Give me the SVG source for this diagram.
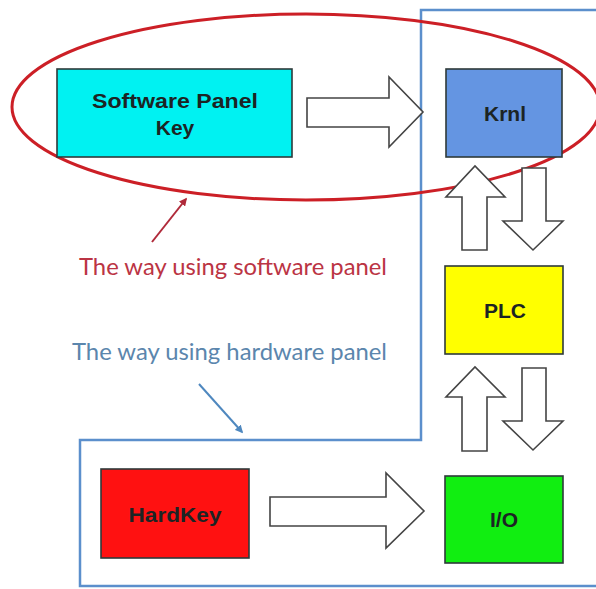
<svg xmlns="http://www.w3.org/2000/svg" width="596" height="589" viewBox="0 0 596 589">
  <style>
    .box { stroke: #2e3a3a; stroke-width: 1.6; }
    .lbl { font-family: "Liberation Sans", Arial, sans-serif; font-weight: bold; font-size: 21px; fill: #1c2424; text-anchor: middle; }
    .flow { fill: #ffffff; stroke: #444444; stroke-width: 1.6; stroke-linejoin: miter; }
    .note { font-family: Lato, "Open Sans", sans-serif; font-size: 23px; }
  </style>
  <defs>
    <marker id="headRed" viewBox="0 0 10 10" refX="8" refY="5" markerWidth="4" markerHeight="4" orient="auto">
      <path d="M0,0 L10,5 L0,10 z" fill="#b02a3a"/>
    </marker>
    <marker id="headBlue" viewBox="0 0 10 10" refX="8" refY="5" markerWidth="4" markerHeight="4" orient="auto">
      <path d="M0,0 L10,5 L0,10 z" fill="#4f88bf"/>
    </marker>
  </defs>

  <rect width="596" height="589" fill="#ffffff"/>

  <!-- hardware path outline -->
  <path id="hardware-outline" d="M596,10 H421 V440 H80 V586 H596" fill="none" stroke="#5b8fcc" stroke-width="2.5"/>

  <!-- software path highlight -->
  <ellipse id="software-ring" cx="306" cy="107" rx="294" ry="93" fill="none" stroke="#cc1f26" stroke-width="3"/>

  <g id="connectors">
    <!-- Software Panel Key -> Krnl -->
    <path class="flow" d="M307,98 H389 V77 L423,112 L389,147 V127 H307 Z"/>
    <!-- HardKey -> I/O -->
    <path class="flow" d="M270,497 H386 V473 L424,511 L386,548 V526 H270 Z"/>
    <!-- PLC -> Krnl -->
    <path class="flow" d="M462,250 V197 H446 L475,166 L505,197 H487 V250 Z"/>
    <!-- Krnl -> PLC -->
    <path class="flow" d="M522,168 H546 V221 H563 L533,250 L503,221 H522 Z"/>
    <!-- I/O -> PLC -->
    <path class="flow" d="M462,451 V397 H446 L475,367 L505,397 H487 V451 Z"/>
    <!-- PLC -> I/O -->
    <path class="flow" d="M522,368 H546 V421 H563 L533,450 L503,421 H522 Z"/>
    <!-- note pointers -->
    <line x1="152" y1="242" x2="186" y2="199" stroke="#b02a3a" stroke-width="2" marker-end="url(#headRed)"/>
    <line x1="199" y1="384" x2="242" y2="432" stroke="#4f88bf" stroke-width="2" marker-end="url(#headBlue)"/>
  </g>

  <g id="software-key">
    <rect class="box" x="57" y="69" width="235" height="88" fill="#00f2f2"/>
    <text class="lbl" x="175" y="108" textLength="166" lengthAdjust="spacingAndGlyphs">Software Panel</text>
    <text class="lbl" x="175" y="135">Key</text>
  </g>

  <g id="krnl">
    <rect class="box" x="446" y="69" width="116" height="88" fill="#6495e2"/>
    <text class="lbl" x="505" y="121">Krnl</text>
  </g>

  <g id="plc">
    <rect class="box" x="445" y="266" width="118" height="88" fill="#ffff00"/>
    <text class="lbl" x="505" y="318">PLC</text>
  </g>

  <g id="io">
    <rect class="box" x="445" y="476" width="118" height="87" fill="#11ee11"/>
    <text class="lbl" x="504" y="527">I/O</text>
  </g>

  <g id="hardkey">
    <rect class="box" x="101" y="469" width="148" height="89" fill="#ff1111"/>
    <text class="lbl" x="175" y="522" font-size="20" textLength="93" lengthAdjust="spacingAndGlyphs">HardKey</text>
  </g>

  <text class="note" x="79" y="275" fill="#bb3444" textLength="308" lengthAdjust="spacingAndGlyphs">The way using software panel</text>
  <text class="note" x="72" y="360" fill="#5b86ad" textLength="315" lengthAdjust="spacingAndGlyphs">The way using hardware panel</text>
</svg>
